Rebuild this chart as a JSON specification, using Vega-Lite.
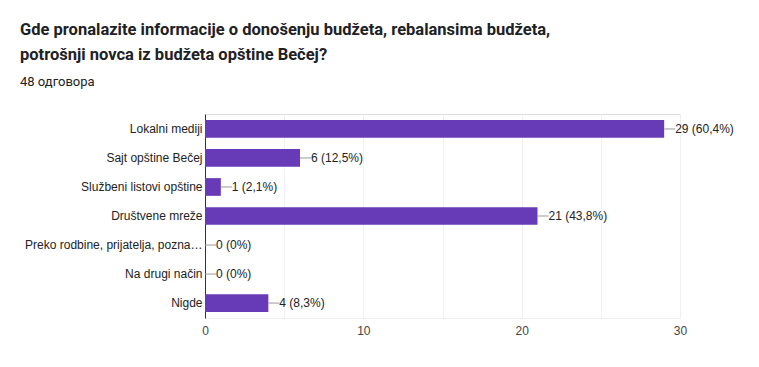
{
  "$schema": "https://vega.github.io/schema/vega-lite/v6.json",
  "autosize": "none",
  "width": 475,
  "height": 204,
  "padding": {"left": 205, "top": 114, "right": 79, "bottom": 49},
  "background": "white",
  "title": {
    "text": ["Gde pronalazite informacije o donošenju budžeta, rebalansima budžeta,", "potrošnji novca iz budžeta opštine Bečej?"],
    "subtitle": "48 одговора",
    "anchor": "start",
    "frame": "group",
    "dx": -185,
    "offset": 25,
    "font": "Roboto",
    "fontSize": 16.5,
    "fontWeight": "bold",
    "color": "#202124",
    "lineHeight": 25,
    "subtitleFont": "Roboto",
    "subtitleFontSize": 13,
    "subtitleColor": "#202124",
    "subtitlePadding": 13
  },
  "data": {
    "values": [
      {"option": "Lokalni mediji", "count": 29, "label": "29 (60,4%)"},
      {"option": "Sajt opštine Bečej", "count": 6, "label": "6 (12,5%)"},
      {"option": "Službeni listovi opštine", "count": 1, "label": "1 (2,1%)"},
      {"option": "Društvene mreže", "count": 21, "label": "21 (43,8%)"},
      {"option": "Preko rodbine, prijatelja, pozna…", "count": 0, "label": "0 (0%)"},
      {"option": "Na drugi način", "count": 0, "label": "0 (0%)"},
      {"option": "Nigde", "count": 4, "label": "4 (8,3%)"}
    ]
  },
  "encoding": {
    "y": {
      "field": "option",
      "type": "nominal",
      "sort": null,
      "title": null,
      "scale": {"paddingInner": 0.39, "paddingOuter": 0.21},
      "axis": {
        "domainColor": "#333333",
        "ticks": false,
        "labelFont": "Liberation Sans",
        "labelFontSize": 12,
        "labelColor": "#222222",
        "labelPadding": 3,
        "labelLimit": 300,
        "grid": false
      }
    }
  },
  "layer": [
    {
      "mark": {"type": "bar", "color": "#673ab7"},
      "encoding": {
        "x": {
          "field": "count",
          "type": "quantitative",
          "title": null,
          "scale": {"domain": [0, 30], "nice": false},
          "axis": {
            "values": [0, 5, 10, 15, 20, 25, 30],
            "labelExpr": "datum.value % 10 === 0 ? datum.label : ''",
            "labelFlush": false,
            "gridColor": "#f0f0f0",
            "domainColor": "#eeeeee",
            "ticks": false,
            "labelFont": "Liberation Sans",
            "labelFontSize": 12,
            "labelColor": "#444444",
            "labelPadding": 7
          }
        }
      }
    },
    {
      "mark": {"type": "rule", "color": "#999999", "x2Offset": 11},
      "encoding": {
        "x": {"field": "count", "type": "quantitative"},
        "x2": {"field": "count"}
      }
    },
    {
      "mark": {"type": "text", "align": "left", "baseline": "middle", "dx": 11, "font": "Liberation Sans", "fontSize": 12, "color": "#222222"},
      "encoding": {
        "x": {"field": "count", "type": "quantitative"},
        "text": {"field": "label"}
      }
    }
  ]
}
